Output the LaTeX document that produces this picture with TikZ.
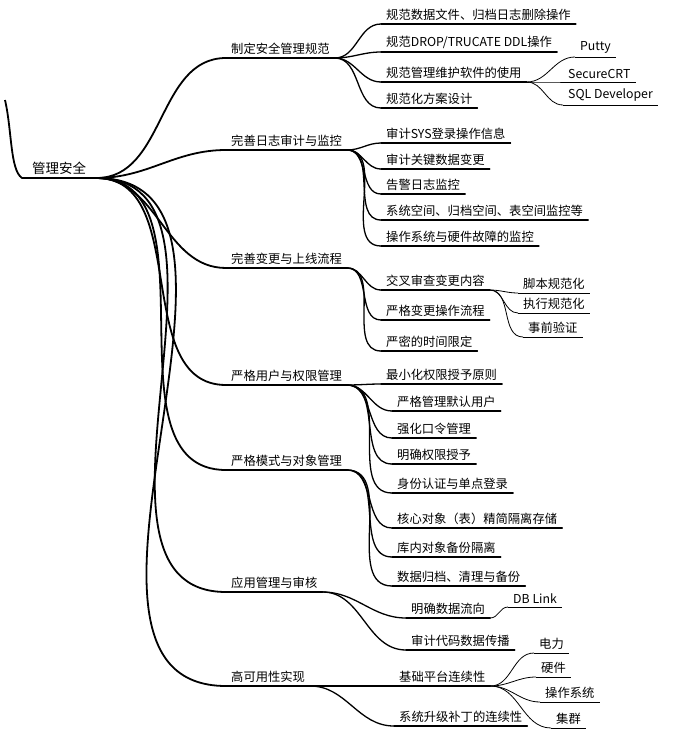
\documentclass[tikz,border=0pt]{standalone}
\usepackage{fontspec}
\setmainfont{Noto Sans CJK SC}
\tikzset{
  topic/.style={anchor=south west,inner xsep=5pt,inner ysep=3pt,font=\fontsize{12.3}{14}\selectfont},
  branch/.style={line width=1.8pt,line cap=round},
  twig/.style={line width=1.3pt,line cap=round}
}
\newcommand{\ul}[2][twig]{\draw[#1] (#2.south west) -- (#2.south east);}
\begin{document}
\begin{tikzpicture}[x=1pt,y=-1pt]
\useasboundingbox (0,0) rectangle (681,744);
%\draw[help lines,step=50] (0,0) grid (681,744);
% root
\node[topic,font=\fontsize{13.5}{15}\selectfont,inner xsep=10pt] (root) at (22,178) {管理安全};
\draw[line width=1.8pt] (5,100) .. controls (12,130) and (10,170) .. (root.south west);
\ul[branch]{root}
% main topics
\node[topic] (m1) at (226,58) {制定安全管理规范};
\node[topic] (m2) at (226,150) {完善日志审计与监控};
\node[topic] (m3) at (226,268) {完善变更与上线流程};
\node[topic] (m4) at (226,385) {严格用户与权限管理};
\node[topic] (m5) at (226,470) {严格模式与对象管理};
\node[topic] (m6) at (226,592) {应用管理与审核};
\node[topic] (m7) at (226,686) {高可用性实现};
\foreach \m in {m1,m2,m3,m4,m5,m6,m7}{
  \ul[branch]{\m}
  \draw[branch] (root.south east) to[out=0,in=180] (\m.south west);
}
% sub topics
\node[topic] (a1) at (381,24) {规范数据文件、归档日志删除操作};
\node[topic] (a2) at (381,52) {规范DROP/TRUCATE DDL操作};
\node[topic] (a3) at (381,82) {规范管理维护软件的使用};
\node[topic] (a4) at (381,108) {规范化方案设计};
\node[topic] (b1) at (381,143) {审计SYS登录操作信息};
\node[topic] (b2) at (381,169) {审计关键数据变更};
\node[topic] (b3) at (381,194) {告警日志监控};
\node[topic] (b4) at (381,220) {系统空间、归档空间、表空间监控等};
\node[topic] (b5) at (381,246) {操作系统与硬件故障的监控};
\node[topic] (c1) at (381,290) {交叉审查变更内容};
\node[topic] (c2) at (381,320) {严格变更操作流程};
\node[topic] (c3) at (381,351) {严密的时间限定};
\node[topic] (d1) at (381,384) {最小化权限授予原则};
\node[topic] (d2) at (392,411) {严格管理默认用户};
\node[topic] (d3) at (392,438) {强化口令管理};
\node[topic] (d4) at (392,464) {明确权限授予};
\node[topic] (d5) at (392,493) {身份认证与单点登录};
\node[topic] (e1) at (392,528) {核心对象（表）精简隔离存储};
\node[topic] (e2) at (392,557) {库内对象备份隔离};
\node[topic] (e3) at (392,586) {数据归档、清理与备份};
\node[topic] (f1) at (406,618) {明确数据流向};
\node[topic] (f2) at (406,650) {审计代码数据传播};
\node[topic] (g1) at (394,686) {基础平台连续性};
\node[topic] (g2) at (394,726) {系统升级补丁的连续性};
\foreach \p/\s in {m1/a1,m1/a2,m1/a3,m1/a4,m2/b1,m2/b2,m2/b3,m2/b4,m2/b5,
  m3/c1,m3/c2,m3/c3,m4/d1,m4/d2,m4/d3,m4/d4,m4/d5,m5/e1,m5/e2,m5/e3,
  m6/f1,m6/f2,m7/g1,m7/g2}{
  \ul{\s}
  \draw[twig] (\p.south east) to[out=0,in=180] (\s.south west);
}
% leaves
\node[topic] (a31) at (575,57) {Putty};
\node[topic] (a32) at (563,82) {SecureCRT};
\node[topic] (a33) at (563,105) {SQL Developer};
\node[topic] (c11) at (518,293) {脚本规范化};
\node[topic] (c12) at (518,313) {执行规范化};
\node[topic] (c13) at (523,337) {事前验证};
\node[topic] (f11) at (508,607) {DB Link};
\node[topic] (g11) at (534,653) {电力};
\node[topic] (g12) at (536,677) {硬件};
\node[topic] (g13) at (540,702) {操作系统};
\node[topic] (g14) at (551,728) {集群};
\foreach \p/\s in {a3/a31,a3/a32,a3/a33,c1/c11,c1/c12,c1/c13,f1/f11,
  g1/g11,g1/g12,g1/g13,g1/g14}{
  \draw[line width=0.8pt] (\s.south west) -- (\s.south east);
  \draw[line width=0.8pt] (\p.south east) to[out=0,in=180] (\s.south west);
}
\end{tikzpicture}
\end{document}
